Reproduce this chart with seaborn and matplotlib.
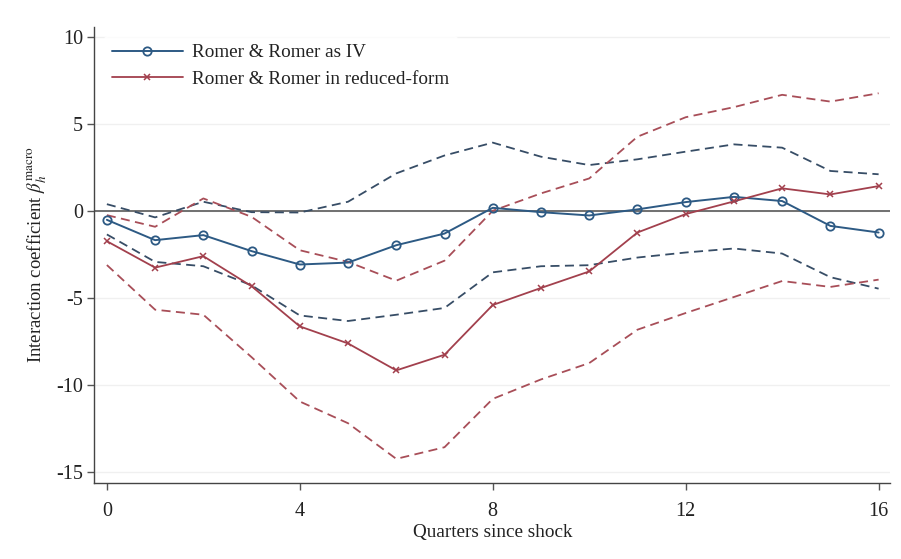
import numpy as np
import pandas as pd
import matplotlib
matplotlib.use("Agg")
import matplotlib.pyplot as plt
import seaborn as sns

quarters = list(range(17))

iv_est = [-0.5, -1.67, -1.38, -2.3, -3.07, -2.96, -1.96, -1.29, 0.19, -0.06, -0.25, 0.1, 0.52, 0.82, 0.58, -0.85, -1.23]
iv_upper = [0.4, -0.36, 0.54, -0.06, -0.08, 0.54, 2.17, 3.2, 3.94, 3.13, 2.65, 2.98, 3.42, 3.84, 3.65, 2.31, 2.12]
iv_lower = [-1.34, -2.92, -3.17, -4.27, -6.0, -6.32, -5.96, -5.57, -3.52, -3.17, -3.11, -2.67, -2.38, -2.15, -2.44, -3.8, -4.46]

rf_est = [-1.73, -3.25, -2.59, -4.32, -6.63, -7.61, -9.16, -8.26, -5.4, -4.42, -3.47, -1.23, -0.17, 0.56, 1.31, 0.96, 1.44]
rf_upper = [-0.23, -0.9, 0.73, -0.33, -2.25, -2.92, -4.0, -2.85, 0.02, 1.02, 1.88, 4.28, 5.4, 5.98, 6.69, 6.3, 6.78]
rf_lower = [-3.1, -5.67, -5.96, -8.4, -10.95, -12.2, -14.25, -13.58, -10.8, -9.68, -8.74, -6.82, -5.86, -4.94, -4.02, -4.36, -3.94]

x_ticks = [0, 4, 8, 12, 16]
y_ticks = [-15, -10, -5, 0, 5, 10]
labels = ["Romer & Romer as IV", "Romer & Romer in reduced-form"]

sns.set_theme(style="white")
plt.rcParams["font.family"] = ["Liberation Serif", "DejaVu Serif"]
plt.rcParams["mathtext.fontset"] = "stix"

blue = "#2d5a84"
blue_ci = "#374d66"
red = "#a2404d"
red_ci = "#a84e58"

fig = plt.figure(figsize=(9.01, 5.59), dpi=100)
ax = fig.add_axes([0.1047, 0.1365, 0.8833, 0.8155])

for yt in y_ticks:
    ax.axhline(yt, color="#f0f0f0", lw=1.0, zorder=0)
ax.axhline(0, color="#707070", lw=1.4, zorder=1)

df = pd.DataFrame({"q": quarters, "iv": iv_est, "ivu": iv_upper, "ivl": iv_lower,
                   "rf": rf_est, "rfu": rf_upper, "rfl": rf_lower})

for col, c in [("ivu", blue_ci), ("ivl", blue_ci), ("rfu", red_ci), ("rfl", red_ci)]:
    sns.lineplot(data=df, x="q", y=col, ax=ax, color=c, lw=1.3, legend=False)
    ax.lines[-1].set_dashes([5, 3])

sns.lineplot(data=df, x="q", y="iv", ax=ax, color=blue, lw=1.4, marker="o",
             markersize=6, markerfacecolor="none", markeredgecolor=blue,
             markeredgewidth=1.3, label=labels[0])
sns.lineplot(data=df, x="q", y="rf", ax=ax, color=red, lw=1.3, marker="x",
             markersize=4, markeredgewidth=1.1, markeredgecolor=red, label=labels[1])

ax.set_xlim(-0.26, 16.24)
ax.set_ylim(-15.62, 10.6)
ax.set_xticks(x_ticks)
ax.set_yticks(y_ticks)
ax.set_xticklabels([str(t) for t in x_ticks])
ax.set_yticklabels([str(t) for t in y_ticks])
ax.tick_params(axis="both", which="both", direction="out", length=5, width=1,
               color="#555555", labelsize=14.5, labelcolor="#222222", pad=3,
               bottom=True, left=True)
ax.tick_params(axis="x", pad=9)

for s in ["top", "right"]:
    ax.spines[s].set_visible(False)
for s in ["left", "bottom"]:
    ax.spines[s].set_color("#444444")
    ax.spines[s].set_linewidth(1.0)

ax.set_xlabel("Quarters since shock", fontsize=13.8, color="#222222", labelpad=2)
ax.set_ylabel(r"Interaction coefficient $\beta_h^{\mathrm{macro}}$", fontsize=13.5,
              color="#222222", labelpad=5)

leg = ax.legend(loc="upper left", frameon=True, fontsize=13.8, handlelength=3.7,
                handletextpad=0.5, labelspacing=0.45, borderaxespad=0.5,
                bbox_to_anchor=(0.0, 1.0))
leg.get_frame().set_facecolor("white")
leg.get_frame().set_edgecolor("white")
for t in leg.get_texts():
    t.set_color("#222222")

fig.savefig("out.png", dpi=100)
